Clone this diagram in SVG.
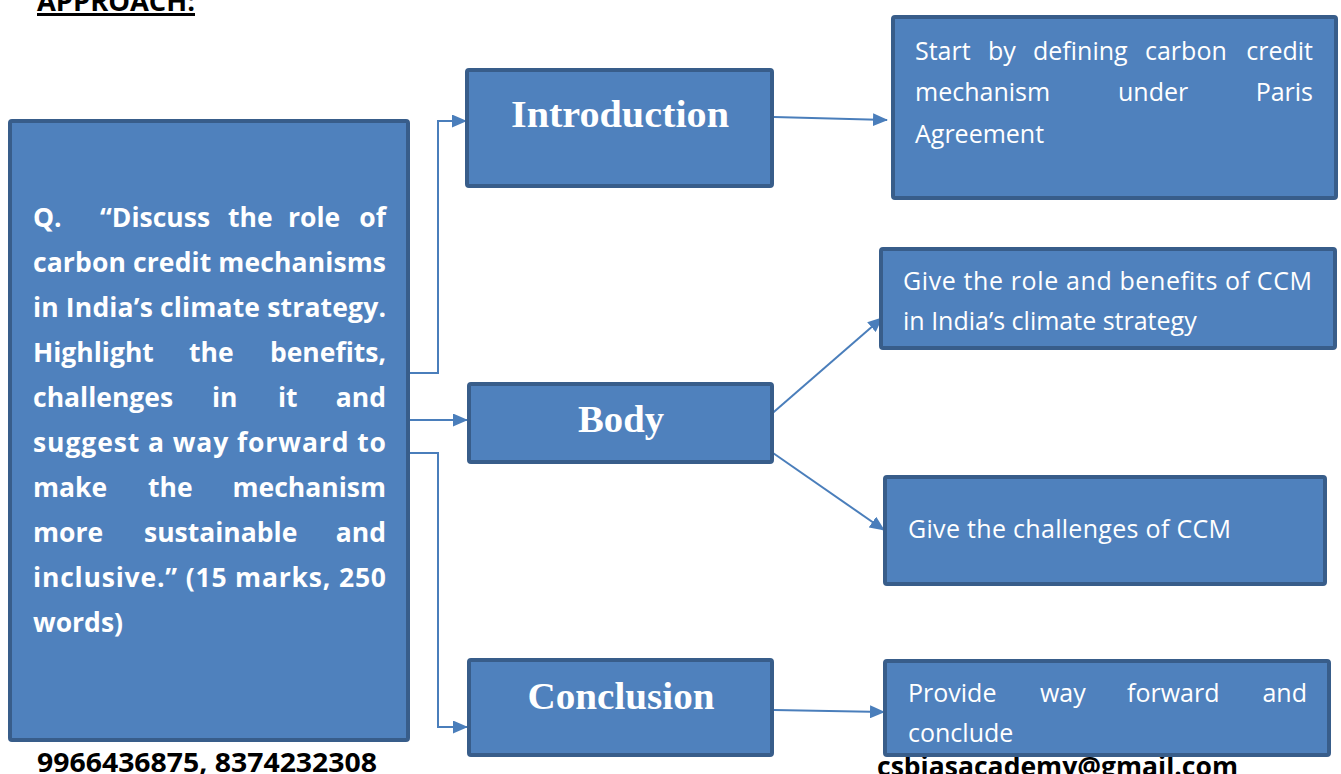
<svg xmlns="http://www.w3.org/2000/svg" width="1341" height="774" viewBox="0 0 1341 774">
<style>
.box{fill:#4f81bd;stroke:#385d8a;stroke-width:4}
.con{fill:none;stroke:#4a7ebb;stroke-width:2}
.q{font-family:"Open Sans","Liberation Sans",sans-serif;font-weight:bold;font-size:26.5px;fill:#ffffff}
.t{font-family:"Open Sans","Liberation Sans",sans-serif;font-size:25px;fill:#ffffff}
.h{font-family:"Liberation Serif","DejaVu Serif",serif;font-weight:bold;font-size:38px;fill:#ffffff;text-anchor:middle}
.f{font-family:"Open Sans","Liberation Sans",sans-serif;font-weight:bold;font-size:26px;fill:#000000}
.e{text-anchor:end}
</style>
<defs>
<marker id="ah" viewBox="0 0 15 13" refX="14" refY="6.5" markerWidth="15" markerHeight="13" markerUnits="userSpaceOnUse" orient="auto">
<path d="M0,0 L15,6.5 L0,13 Z" fill="#4a7ebb"/>
</marker>
</defs>
<rect width="1341" height="774" fill="#ffffff"/>
<g id="header">
<text class="f" x="37" y="11" textLength="158" lengthAdjust="spacingAndGlyphs">APPROACH:</text>
<rect x="37" y="13" width="158" height="3" fill="#000000"/>
</g>
<g id="footer">
<text class="f" x="37" y="772" textLength="340" lengthAdjust="spacingAndGlyphs">9966436875, 8374232308</text>
<text class="f" x="877" y="776" textLength="361" lengthAdjust="spacingAndGlyphs">csbiasacademy@gmail.com</text>
</g>
<g id="connectors">
<path class="con" d="M410,373 H438 V121 H466" marker-end="url(#ah)"/>
<path class="con" d="M410,420 H467" marker-end="url(#ah)"/>
<path class="con" d="M410,453 H438 V727 H467" marker-end="url(#ah)"/>
<path class="con" d="M774,117 L887,120" marker-end="url(#ah)"/>
<path class="con" d="M768,417 L882,318" marker-end="url(#ah)"/>
<path class="con" d="M773,453 L884,530" marker-end="url(#ah)"/>
<path class="con" d="M774,710 L884,712" marker-end="url(#ah)"/>
</g>
<g id="question">
<rect class="box" x="10" y="121" width="398" height="619" rx="2"/>
<text class="q" y="227"><tspan x="33">Q.</tspan><tspan x="100">“Discuss</tspan><tspan x="228">the</tspan><tspan x="288">role</tspan><tspan x="386" class="e">of</tspan></text>
<text class="q" y="272" x="33" textLength="353" lengthAdjust="spacing">carbon credit mechanisms</text>
<text class="q" y="317" x="33" textLength="353" lengthAdjust="spacing">in India’s climate strategy.</text>
<text class="q" y="362"><tspan x="33">Highlight</tspan><tspan x="189">the</tspan><tspan x="386" class="e">benefits,</tspan></text>
<text class="q" y="407"><tspan x="33">challenges</tspan><tspan x="212">in</tspan><tspan x="278">it</tspan><tspan x="386" class="e">and</tspan></text>
<text class="q" y="452" x="33" textLength="353" lengthAdjust="spacing">suggest a way forward to</text>
<text class="q" y="497"><tspan x="33">make</tspan><tspan x="148">the</tspan><tspan x="386" class="e">mechanism</tspan></text>
<text class="q" y="542"><tspan x="33">more</tspan><tspan x="144">sustainable</tspan><tspan x="386" class="e">and</tspan></text>
<text class="q" y="587" x="33" textLength="353" lengthAdjust="spacing">inclusive.” (15 marks, 250</text>
<text class="q" y="632" x="33">words)</text>
</g>
<g id="introduction">
<rect class="box" x="467" y="70" width="305" height="116" rx="2"/>
<text class="h" x="620" y="127" textLength="218" lengthAdjust="spacingAndGlyphs">Introduction</text>
</g>
<g id="body">
<rect class="box" x="469" y="384" width="303" height="78" rx="2"/>
<text class="h" x="621" y="432" textLength="86" lengthAdjust="spacingAndGlyphs">Body</text>
</g>
<g id="conclusion">
<rect class="box" x="469" y="660" width="303" height="95" rx="2"/>
<text class="h" x="621" y="709" textLength="187" lengthAdjust="spacingAndGlyphs">Conclusion</text>
</g>
<g id="intro-detail">
<rect class="box" x="893" y="17" width="443" height="181" rx="2"/>
<text class="t" y="60"><tspan x="915">Start</tspan><tspan x="988">by</tspan><tspan x="1033">defining</tspan><tspan x="1145">carbon</tspan><tspan x="1313" class="e">credit</tspan></text>
<text class="t" y="101"><tspan x="915">mechanism</tspan><tspan x="1118">under</tspan><tspan x="1313" class="e">Paris</tspan></text>
<text class="t" y="143" x="915">Agreement</text>
</g>
<g id="body-benefits">
<rect class="box" x="881" y="249" width="454" height="99" rx="2"/>
<text class="t" x="903" y="290" textLength="409" lengthAdjust="spacing">Give the role and benefits of CCM</text>
<text class="t" x="903" y="330">in India’s climate strategy</text>
</g>
<g id="body-challenges">
<rect class="box" x="885" y="477" width="440" height="107" rx="2"/>
<text class="t" x="908" y="538" textLength="323" lengthAdjust="spacing">Give the challenges of CCM</text>
</g>
<g id="conclusion-detail">
<rect class="box" x="885" y="661" width="444" height="94" rx="2"/>
<text class="t" y="702"><tspan x="908">Provide</tspan><tspan x="1040">way</tspan><tspan x="1127">forward</tspan><tspan x="1307" class="e">and</tspan></text>
<text class="t" x="908" y="742">conclude</text>
</g>
</svg>
